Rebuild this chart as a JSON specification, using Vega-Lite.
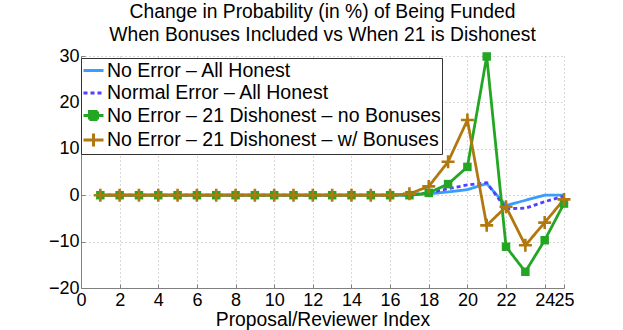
{
  "$schema": "https://vega.github.io/schema/vega-lite/v6.json",
  "width": 483,
  "height": 232,
  "autosize": "none",
  "padding": {"left": 81, "top": 56, "right": 59, "bottom": 42},
  "background": "white",
  "config": {"view": {"stroke": null}, "font": "Liberation Sans"},
  "title": {
    "text": ["Change in Probability (in %) of Being Funded", "When Bonuses Included vs When 21 is Dishonest"],
    "fontSize": 19.3, "fontWeight": "normal", "font": "Liberation Sans", "anchor": "middle",
    "offset": 2, "lineHeight": 23, "color": "black"
  },
  "data": {"values": [
    {"x":1,"s":"A","y":0},{"x":2,"s":"A","y":0},{"x":3,"s":"A","y":0},{"x":4,"s":"A","y":0},{"x":5,"s":"A","y":0},
    {"x":6,"s":"A","y":0},{"x":7,"s":"A","y":0},{"x":8,"s":"A","y":0},{"x":9,"s":"A","y":0},{"x":10,"s":"A","y":0},
    {"x":11,"s":"A","y":0},{"x":12,"s":"A","y":0},{"x":13,"s":"A","y":0},{"x":14,"s":"A","y":0},{"x":15,"s":"A","y":0},
    {"x":16,"s":"A","y":0},{"x":17,"s":"A","y":0},{"x":18,"s":"A","y":0.3},{"x":19,"s":"A","y":0.7},{"x":20,"s":"A","y":1.2},
    {"x":21,"s":"A","y":2.5},{"x":22,"s":"A","y":-2.2},{"x":23,"s":"A","y":-1.1},{"x":24,"s":"A","y":0},{"x":25,"s":"A","y":0},
    {"x":1,"s":"B","y":0},{"x":2,"s":"B","y":0},{"x":3,"s":"B","y":0},{"x":4,"s":"B","y":0},{"x":5,"s":"B","y":0},
    {"x":6,"s":"B","y":0},{"x":7,"s":"B","y":0},{"x":8,"s":"B","y":0},{"x":9,"s":"B","y":0},{"x":10,"s":"B","y":0},
    {"x":11,"s":"B","y":0},{"x":12,"s":"B","y":0},{"x":13,"s":"B","y":0},{"x":14,"s":"B","y":0},{"x":15,"s":"B","y":0},
    {"x":16,"s":"B","y":0},{"x":17,"s":"B","y":0.1},{"x":18,"s":"B","y":0.5},{"x":19,"s":"B","y":1.4},{"x":20,"s":"B","y":2.2},
    {"x":21,"s":"B","y":2.7},{"x":22,"s":"B","y":-2.9},{"x":23,"s":"B","y":-2.8},{"x":24,"s":"B","y":-1.4},{"x":25,"s":"B","y":-0.2},
    {"x":1,"s":"C","y":0},{"x":2,"s":"C","y":0},{"x":3,"s":"C","y":0},{"x":4,"s":"C","y":0},{"x":5,"s":"C","y":0},
    {"x":6,"s":"C","y":0},{"x":7,"s":"C","y":0},{"x":8,"s":"C","y":0},{"x":9,"s":"C","y":0},{"x":10,"s":"C","y":0},
    {"x":11,"s":"C","y":0},{"x":12,"s":"C","y":0},{"x":13,"s":"C","y":0},{"x":14,"s":"C","y":0},{"x":15,"s":"C","y":0},
    {"x":16,"s":"C","y":0},{"x":17,"s":"C","y":0},{"x":18,"s":"C","y":0.5},{"x":19,"s":"C","y":2.4},{"x":20,"s":"C","y":6.1},
    {"x":21,"s":"C","y":29.9},{"x":22,"s":"C","y":-11.1},{"x":23,"s":"C","y":-16.5},{"x":24,"s":"C","y":-9.7},{"x":25,"s":"C","y":-1.8},
    {"x":1,"s":"D","y":0},{"x":2,"s":"D","y":0},{"x":3,"s":"D","y":0},{"x":4,"s":"D","y":0},{"x":5,"s":"D","y":0},
    {"x":6,"s":"D","y":0},{"x":7,"s":"D","y":0},{"x":8,"s":"D","y":0},{"x":9,"s":"D","y":0},{"x":10,"s":"D","y":0},
    {"x":11,"s":"D","y":0},{"x":12,"s":"D","y":0},{"x":13,"s":"D","y":0},{"x":14,"s":"D","y":0},{"x":15,"s":"D","y":0},
    {"x":16,"s":"D","y":0},{"x":17,"s":"D","y":0.3},{"x":18,"s":"D","y":1.9},{"x":19,"s":"D","y":7.2},{"x":20,"s":"D","y":16.2},
    {"x":21,"s":"D","y":-6.5},{"x":22,"s":"D","y":-2.5},{"x":23,"s":"D","y":-10.8},{"x":24,"s":"D","y":-5.9},{"x":25,"s":"D","y":-0.9}
  ]},
  "encoding": {
    "x": {"field": "x", "type": "quantitative", "scale": {"domain": [0, 25], "nice": false},
      "axis": {"values": [0,2,4,6,8,10,12,14,16,18,20,22,24,25], "format": "d", "grid": true, "gridDash": [1,3], "gridColor": "#b0b0b0",
        "domainColor": "#808080", "tickColor": "#808080", "tickSize": -4, "labelPadding": 7, "labelFontSize": 18,
        "labelColor": "black", "labelFlush": false, "labelOverlap": false, "title": "Proposal/Reviewer Index",
        "titleFontSize": 19.3, "titleFontWeight": "normal", "titleColor": "black", "titlePadding": 1}},
    "y": {"field": "y", "type": "quantitative", "scale": {"domain": [-20, 30], "nice": false},
      "axis": {"values": [-20,-10,0,10,20,30], "grid": true, "gridDash": [1,3], "gridColor": "#b0b0b0",
        "domainColor": "#808080", "tickColor": "#808080", "tickSize": -4, "labelPadding": 6, "labelFontSize": 18,
        "labelColor": "black", "labelFlush": false, "labelOverlap": false, "title": null}}
  },
  "layer": [
    {
      "mark": {"type": "line", "strokeWidth": 2.8},
      "encoding": {
        "color": {"field": "s", "type": "nominal",
          "scale": {"domain": ["A","B","C","D"], "range": ["#3a9cff", "#5040ff", "#23a623", "#b0780f"]},
          "legend": {
            "orient": "none", "legendX": 0, "legendY": 2, "title": null,
            "fillColor": "white", "strokeColor": "#333333", "padding": 1, "rowPadding": 1.5,
            "symbolSize": 400, "symbolStrokeWidth": 3, "labelFontSize": 19.5, "labelFont": "Liberation Sans",
            "labelColor": "black", "labelOffset": 2, "labelLimit": 500,
            "labelExpr": "datum.value == 'A' ? 'No Error – All Honest' : datum.value == 'B' ? 'Normal Error – All Honest' : datum.value == 'C' ? 'No Error – 21 Dishonest – no Bonuses' : 'No Error – 21 Dishonest – w/ Bonuses'",
            "encode": {"symbols": {"update": {
              "shape": {"signal": "datum.value == 'C' ? 'M-1,0H1M-0.4,-0.4H0.4V0.4H-0.4Z' : datum.value == 'D' ? 'M-1,0H1M0,-0.65V0.65' : 'M-1,0H1'"},
              "fill": {"signal": "datum.value == 'C' ? '#23a623' : 'transparent'"},
              "strokeDash": {"signal": "datum.value == 'B' ? [4,3] : [1,0]"}
            }}}
          }},
        "strokeDash": {"field": "s", "type": "nominal",
          "scale": {"domain": ["A","B","C","D"], "range": [[1,0],[4,3],[1,0],[1,0]]}, "legend": null}
      }
    },
    {
      "transform": [{"filter": {"field": "s", "equal": "C"}}],
      "mark": {"type": "point", "shape": "square", "filled": true, "size": 72, "color": "#23a623", "opacity": 1},
      "encoding": {}
    },
    {
      "transform": [{"filter": {"field": "s", "equal": "D"}}],
      "mark": {"type": "point", "shape": "M-1,0H1M0,-1V1", "filled": false, "size": 169, "color": "#b0780f", "strokeWidth": 2.6, "opacity": 1},
      "encoding": {}
    }
  ]
}
